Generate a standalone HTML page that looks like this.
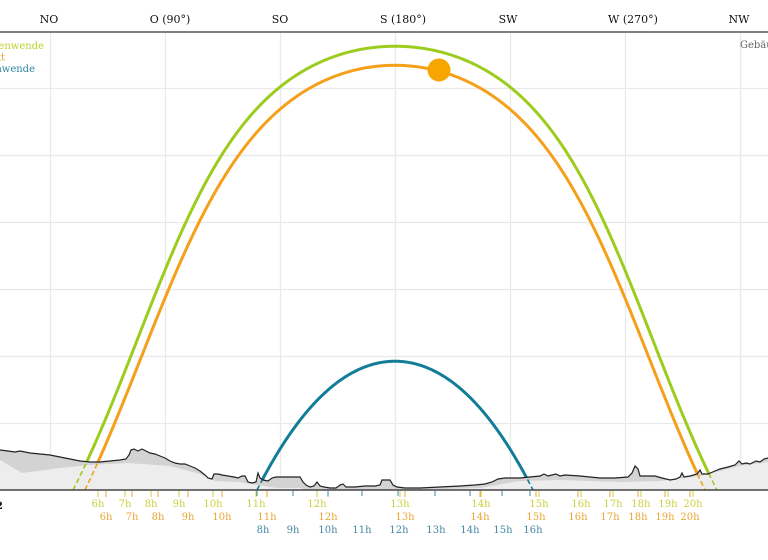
<!DOCTYPE html>
<html><head><meta charset="utf-8">
<style>
html,body{margin:0;padding:0;background:#fff;}
svg{display:block;}
text{font-family:"DejaVu Serif","Liberation Serif",serif;}
</style></head>
<body>
<svg id="s" width="768" height="560" viewBox="0 0 768 560" xmlns="http://www.w3.org/2000/svg">
<defs>
<clipPath id="above"><polygon id="cpA" points=""/></clipPath>
<clipPath id="below"><polygon id="cpB" points=""/></clipPath>
</defs>
<rect width="768" height="560" fill="#fff"/>
<!-- grid -->
<g stroke="#e9e9e9" stroke-width="1.3">
<line x1="50.5" y1="33" x2="50.5" y2="489"/>
<line x1="165.5" y1="33" x2="165.5" y2="489"/>
<line x1="280.5" y1="33" x2="280.5" y2="489"/>
<line x1="395.5" y1="33" x2="395.5" y2="489"/>
<line x1="510.5" y1="33" x2="510.5" y2="489"/>
<line x1="625.5" y1="33" x2="625.5" y2="489"/>
<line x1="740.5" y1="33" x2="740.5" y2="489"/>
<line x1="0" y1="88.5" x2="768" y2="88.5"/>
<line x1="0" y1="155.5" x2="768" y2="155.5"/>
<line x1="0" y1="222.5" x2="768" y2="222.5"/>
<line x1="0" y1="289.5" x2="768" y2="289.5"/>
<line x1="0" y1="356.5" x2="768" y2="356.5"/>
<line x1="0" y1="423.5" x2="768" y2="423.5"/>
</g>
<!-- terrain fills -->
<polygon id="tLight" fill="#ededed" points=""/>
<polygon id="tDark" fill="#d3d3d3" points=""/>
<!-- sun paths dashed -->
<g fill="none" stroke-width="1.6" stroke-dasharray="5,3" clip-path="url(#below)">
<path id="gD" stroke="#9ccc1e"/>
<path id="oD" stroke="#f5a01a"/>
<path id="bD" stroke="#137d98"/>
</g>
<g fill="none" stroke-width="3" clip-path="url(#above)">
<path id="gS" stroke="#9ccc1e"/>
<path id="oS" stroke="#f5a01a"/>
<path id="bS" stroke="#137d98"/>
</g>
<polyline id="tLine" fill="none" stroke="#222" stroke-width="1.2" points=""/>
<!-- sun -->
<circle cx="439" cy="70" r="11.5" fill="#f7a600"/>
<!-- axes -->
<line x1="0" y1="32" x2="768" y2="32" stroke="#555" stroke-width="1.6"/>
<line x1="0" y1="490" x2="768" y2="490" stroke="#444" stroke-width="1.6"/>
<!-- top labels -->
<g font-size="11" fill="#111" text-anchor="middle">
<text x="49" y="23">NO</text>
<text x="170" y="23">O (90°)</text>
<text x="280" y="23">SO</text>
<text x="403" y="23">S (180°)</text>
<text x="508" y="23">SW</text>
<text x="633" y="23">W (270°)</text>
<text x="739" y="23">NW</text>
</g>
<!-- legend -->
<g font-size="10">
<text x="44" y="49" text-anchor="end" fill="#bfd22c">Sommersonnenwende</text>
<text x="5" y="60.5" text-anchor="end" fill="#eea21e">Gewählter Zeitpunkt</text>
<text x="35" y="72" text-anchor="end" fill="#2d86a0">Wintersonnenwende</text>
<text x="740" y="48" fill="#666">Gebäude</text>
<text x="3" y="509" text-anchor="end" fill="#222" font-weight="bold">12</text>
</g>
<!-- ticks & labels -->
<g id="ticks"></g>
</svg>
<script>
(function(){
var T=[[0,450],[8,451],[15,452],[20,451],[30,453],[40,454],[50,455],[60,457],[70,459],[80,461],[90,462],[100,462],[110,461],[120,460],[126,459],[129,455],[131,450],[134,449],[138,451],[142,449],[146,451],[150,453],[155,454],[160,456],[165,458],[170,461],[175,463],[180,464],[185,464],[190,466],[195,468],[200,471],[205,475],[208,478],[212,479],[214,474],[218,474],[222,475],[228,476],[234,477],[238,478],[242,476],[245,476],[248,482],[252,483],[256,482],[258,473],[260,478],[263,480],[268,481],[272,478],[276,477],[300,477],[303,482],[306,485],[310,487],[314,486],[317,482],[320,486],[324,487],[330,488],[336,488],[340,485],[343,484],[346,487],[355,487],[365,486],[375,486],[380,485],[382,480],[390,480],[393,485],[397,487],[405,488],[420,488],[440,487],[460,486],[475,485],[485,484],[492,482],[498,479],[505,478],[520,478],[530,477],[540,476],[544,474],[548,476],[552,475],[556,474],[560,476],[565,475],[580,476],[600,478],[615,478],[628,477],[632,473],[635,466],[638,469],[640,476],[645,476],[655,476],[662,478],[670,480],[676,479],[680,477],[682,473],[684,477],[690,476],[697,474],[700,470],[702,474],[708,474],[715,471],[720,469],[728,467],[735,465],[739,461],[742,464],[746,463],[750,464],[756,461],[760,462],[764,459],[768,458]];
var L=[[768,462],[740,466],[700,476],[660,481],[620,482],[560,480],[520,481],[480,488],[400,490],[306,490],[300,488],[276,488],[265,486],[255,485],[240,482],[215,481],[200,474],[170,466],[128,463],[90,465],[60,468],[22,473],[0,460]];
function s(a){return a.map(function(p){return p[0]+','+p[1];}).join(' ');}
var ts=s(T);
document.getElementById('tLight').setAttribute('points',ts+' 768,490 0,490');
document.getElementById('tDark').setAttribute('points',ts+' '+s(L));
document.getElementById('tLine').setAttribute('points',ts);
document.getElementById('cpA').setAttribute('points','0,0 '+ts+' 768,0');
document.getElementById('cpB').setAttribute('points',ts+' 768,496 0,496');
var R=Math.PI/180,lat=47.4*R,K=6.72;
function path(decl){
 var d=decl*R;var H0=Math.acos(-Math.tan(lat)*Math.tan(d));var out=[];var N=400;
 for(var i=0;i<=N;i++){
  var H=-H0+2*H0*i/N;
  var sh=Math.sin(lat)*Math.sin(d)+Math.cos(lat)*Math.cos(d)*Math.cos(H);
  if(sh<0)sh=0;
  var h=Math.asin(sh)/R;
  var A=Math.atan2(Math.sin(H),Math.cos(H)*Math.sin(lat)-Math.tan(d)*Math.cos(lat))/R+180;
  out.push((395+(A-180)*115/45).toFixed(2)+','+(490-h*K).toFixed(2));
 }
 return 'M'+out.join('L');
}
var g=path(23.44),o=path(20.6),b=path(-23.44);
['gD','gS'].forEach(function(id){document.getElementById(id).setAttribute('d',g);});
['oD','oS'].forEach(function(id){document.getElementById(id).setAttribute('d',o);});
['bD','bS'].forEach(function(id){document.getElementById(id).setAttribute('d',b);});
var NS='http://www.w3.org/2000/svg',tk=document.getElementById('ticks');
function add(tag,attrs,txt){var e=document.createElementNS(NS,tag);for(var k in attrs)e.setAttribute(k,attrs[k]);if(txt)e.textContent=txt;tk.appendChild(e);}
var G=[[6,98],[7,125],[8,151],[9,179],[10,213],[11,256],[12,317],[13,400],[14,481],[15,539],[16,581],[17,613],[18,641],[19,668],[20,693]];
var O=[[6,106],[7,132],[8,158],[9,188],[10,222],[11,267],[12,328],[13,405],[14,480],[15,536],[16,578],[17,610],[18,638],[19,665],[20,690]];
var B=[[8,263,257],[9,293,293],[10,328,328],[11,362,362],[12,399,398],[13,436,435],[14,470,470],[15,503,502],[16,533,530]];
G.forEach(function(p){add('line',{x1:p[1],x2:p[1],y1:491,y2:497,stroke:'#cdd23a','stroke-width':1});add('text',{x:p[1],y:507,'text-anchor':'middle','font-size':10,fill:'#cbcf3c'},p[0]+'h');});
O.forEach(function(p){add('line',{x1:p[1],x2:p[1],y1:491,y2:497,stroke:'#e9a935','stroke-width':1});add('text',{x:p[1],y:520,'text-anchor':'middle','font-size':10,fill:'#e8a634'},p[0]+'h');});
B.forEach(function(p){add('line',{x1:p[2],x2:p[2],y1:491,y2:496,stroke:'#3c89a3','stroke-width':1});add('text',{x:p[1],y:533,'text-anchor':'middle','font-size':10,fill:'#4488a3'},p[0]+'h');});
})();
</script>
</body></html>
